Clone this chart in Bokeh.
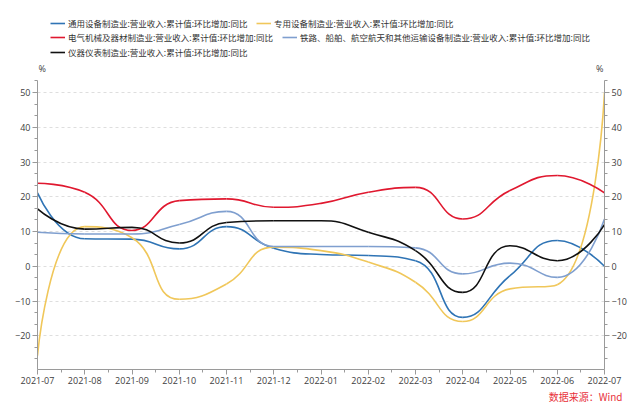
from bokeh.plotting import figure
from bokeh.models import (ColumnDataSource, Range1d, LinearAxis, FixedTicker,
                          SingleIntervalTicker, Legend, LegendItem, Label, Title)
from bokeh.embed import file_html
from bokeh.resources import INLINE

months = ["2021-07", "2021-08", "2021-09", "2021-10", "2021-11", "2021-12",
          "2022-01", "2022-02", "2022-03", "2022-04", "2022-05", "2022-06", "2022-07"]

tongyong = [21.1, 7.9, 7.8, 5.0, 11.4, 5.2, 3.4, 3.1, 1.6, -14.7, -2.7, 7.4, 0.0]
zhuanyong = [-25.7, 11.4, 8.2, -9.5, -5.1, 5.5, 4.5, 1.2, -4.6, -15.9, -6.5, -5.3, 50.0]
dianqi = [23.9, 21.3, 10.3, 18.9, 19.4, 17.0, 18.1, 21.3, 22.7, 13.6, 21.8, 26.1, 21.1]
tielu = [9.8, 9.3, 9.3, 12.0, 15.8, 5.7, 5.7, 5.7, 5.3, -2.2, 0.9, -3.2, 13.6]
yiqi = [16.5, 10.7, 11.2, 6.7, 12.6, 13.1, 13.1, 9.8, 4.5, -7.5, 5.9, 1.6, 12.0]

series_names = [
    "通用设备制造业:营业收入:累计值:环比增加:同比",
    "专用设备制造业:营业收入:累计值:环比增加:同比",
    "电气机械及器材制造业:营业收入:累计值:环比增加:同比",
    "铁路、船舶、航空航天和其他运输设备制造业:营业收入:累计值:环比增加:同比",
    "仪器仪表制造业:营业收入:累计值:环比增加:同比",
]
series_values = [tongyong, zhuanyong, dianqi, tielu, yiqi]
series_colors = ["#2f74b5", "#f0c75a", "#e0182f", "#7f9fcf", "#111111"]

# visible axis extent and layout
Y0, Y1 = -29.7, 53.45
W, H = 641, 408
BL, BR, BB = 37, 37, 39
TOP_PX = 80                       # pixels of frame above the axis top
FW = W - BL - BR                  # 567
AXIS_H = H - BB - TOP_PX          # 289
SX = FW / (len(months) - 1)
SY = AXIS_H / (Y1 - Y0)
YTOP = Y1 + TOP_PX / SY


def smooth_segments(vals, smooth=0.5):
    """Bezier control points for a smoothed line (computed in pixel space)."""
    pts = [(i * SX, v * SY) for i, v in enumerate(vals)]
    n = len(pts)
    segs = []
    cp0 = pts[0]
    for i in range(1, n):
        x, y = pts[i]
        px, py = pts[i - 1]
        if i == n - 1:
            cp1 = (x, y)
            nxt = (x, y)
        else:
            nx, ny = pts[i + 1]
            vx, vy = nx - px, ny - py
            lp = ((x - px) ** 2 + (y - py) ** 2) ** 0.5
            ln = ((nx - x) ** 2 + (ny - y) ** 2) ** 0.5
            r = ln / (ln + lp)
            ncx = x + vx * smooth * r
            ncy = y + vy * smooth * r
            ncx = max(min(ncx, max(nx, x)), min(nx, x))
            ncy = max(min(ncy, max(ny, y)), min(ny, y))
            vx, vy = ncx - x, ncy - y
            c1x = x - vx * lp / ln
            c1y = y - vy * lp / ln
            c1x = max(min(c1x, max(px, x)), min(px, x))
            c1y = max(min(c1y, max(py, y)), min(py, y))
            vx, vy = x - c1x, y - c1y
            nxt = (x + vx * ln / lp, y + vy * ln / lp)
            cp1 = (c1x, c1y)
        segs.append(((px, py), cp0, cp1, (x, y)))
        cp0 = nxt
    d = dict(x0=[], y0=[], x1=[], y1=[], cx0=[], cy0=[], cx1=[], cy1=[])
    for a, c0, c1, b in segs:
        d["x0"].append(a[0] / SX); d["y0"].append(a[1] / SY)
        d["cx0"].append(c0[0] / SX); d["cy0"].append(c0[1] / SY)
        d["cx1"].append(c1[0] / SX); d["cy1"].append(c1[1] / SY)
        d["x1"].append(b[0] / SX); d["y1"].append(b[1] / SY)
    return ColumnDataSource(d)


p = figure(width=W, height=H, output_backend="svg", toolbar_location=None,
           x_range=Range1d(0, len(months) - 1), y_range=Range1d(Y0, YTOP),
           min_border_left=BL, min_border_right=BR, min_border_top=0,
           min_border_bottom=BB)
p.outline_line_color = None
p.background_fill_color = "white"
p.border_fill_color = "white"

renderers = []
for vals, col in zip(series_values, series_colors):
    src = smooth_segments(vals)
    r = p.bezier(x0="x0", y0="y0", x1="x1", y1="y1", cx0="cx0", cy0="cy0",
                 cx1="cx1", cy1="cy1", source=src, line_color=col, line_width=1.6)
    renderers.append(r)

# axes
tick_font = "Open Sans"
p.xaxis.ticker = FixedTicker(ticks=list(range(len(months))),
                             minor_ticks=[i + 0.5 for i in range(len(months) - 1)])
p.xaxis.major_label_overrides = {i: m for i, m in enumerate(months)}

right = LinearAxis()
p.add_layout(right, "right")

for ax in [p.xaxis[0], p.yaxis[0], right]:
    ax.axis_line_color = "#9a9a9a"
    ax.major_tick_line_color = "#9a9a9a"
    ax.minor_tick_line_color = "#9a9a9a"
    ax.major_tick_out = 5
    ax.major_tick_in = 0
    ax.minor_tick_out = 3
    ax.minor_tick_in = 0
    ax.major_label_text_font = tick_font
    ax.major_label_text_font_size = "9px"
    ax.major_label_text_color = "#404040"
    ax.major_label_standoff = 2

for ax in [p.yaxis[0], right]:
    ax.ticker = SingleIntervalTicker(interval=10, num_minor_ticks=3)
    ax.bounds = (Y0, Y1)

p.xgrid.visible = False
p.ygrid.ticker = SingleIntervalTicker(interval=10)
p.ygrid.bounds = (Y0, Y1)
p.ygrid.grid_line_color = "#dedede"
p.ygrid.grid_line_dash = "3 3"

# legends, one per item to mimic a flow layout (positions from frame bottom-left)
fb = H - BB
legend_centers = [(13, 22.5), (219, 22.5), (13, 37), (245, 37), (13, 51.5)]
for name, r, (lx, cy) in zip(series_names, renderers, legend_centers):
    lg = Legend(items=[LegendItem(label=name, renderers=[r])],
                location=(lx, fb - cy - 6),
                orientation="horizontal", padding=0, margin=0, spacing=0,
                border_line_color=None, background_fill_alpha=0,
                label_text_font="Noto Sans CJK SC", label_text_font_size="8.5px",
                label_text_color="#333333", glyph_width=15, glyph_height=12,
                label_height=12, label_standoff=3)
    p.add_layout(lg, "center")

p.add_layout(Label(x=0, y=Y1, x_offset=1, y_offset=12, text="%", text_align="left",
                   text_baseline="middle", text_font=tick_font,
                   text_font_size="9px", text_color="#404040"))
p.add_layout(Label(x=len(months) - 1, y=Y1, x_offset=-1, y_offset=12, text="%",
                   text_align="right", text_baseline="middle", text_font=tick_font,
                   text_font_size="9px", text_color="#404040"))

src_title = Title(text="数据来源：Wind", align="right", offset=-18, standoff=0,
                  text_font="Noto Sans CJK SC", text_font_size="10px",
                  text_font_style="normal", text_color="#e8313b")
p.add_layout(src_title, "below")

open("out.html", "w").write(file_html(p, INLINE))
